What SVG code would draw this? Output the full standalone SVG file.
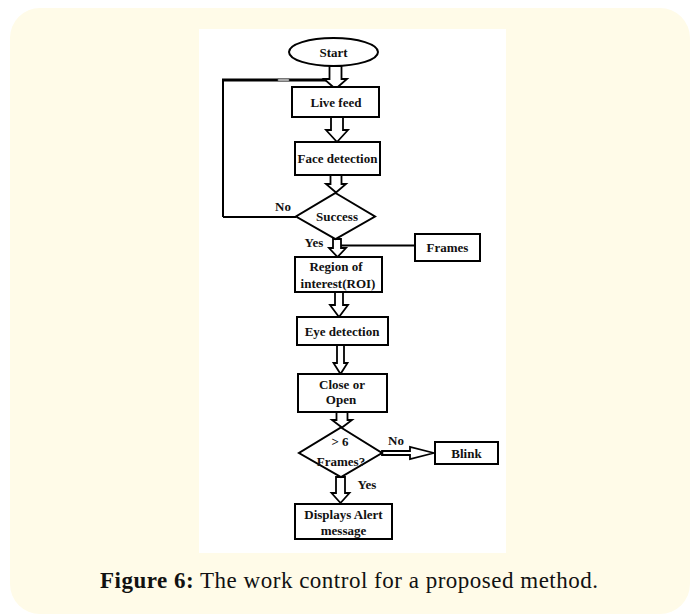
<svg xmlns="http://www.w3.org/2000/svg" width="692" height="616" viewBox="0 0 692 616">
<style>
.box{fill:#fff;stroke:#000;stroke-width:2}
.arr{fill:#fff;stroke:#000;stroke-width:1.8;stroke-linejoin:miter}
.t{font-family:"Liberation Serif","Times New Roman",serif;font-weight:bold;font-size:13px;fill:#111;text-anchor:middle}
.ln{fill:none;stroke:#000}
.cap{font-family:"Liberation Serif","Times New Roman",serif;font-size:23px;fill:#111;text-anchor:middle}
</style>
<rect x="10" y="8" width="680" height="606" rx="30" ry="30" fill="#fffbe8"/>
<rect x="199" y="29" width="307" height="524" fill="#fff"/>

<g id="connectors">
  <path class="ln" d="M223,217 V80" stroke-width="2"/>
  <path class="ln" d="M222,80 H332" stroke-width="3.2"/>
  <rect x="278" y="78.6" width="11" height="3" fill="#aaa" stroke="#666" stroke-width="0.6"/>
  <path class="ln" d="M223,217 H296" stroke-width="2"/>
  <path class="ln" d="M341,245.5 H415" stroke-width="2"/>
  <polygon class="arr" points="329.5,66 341.5,66 341.5,79 347,79 335.5,89 324,79 329.5,79"/>
  <polygon class="arr" points="331,117 343,117 343,130 348,130 337,142 326,130 331,130"/>
  <polygon class="arr" points="330.5,175 341.5,175 341.5,184 346,184 336,192.5 326,184 330.5,184"/>
  <polygon class="arr" points="333,239 341,239 341,248 346,248 337.5,257 329,248 333,248"/>
  <polygon class="arr" points="335,292 343,292 343,305 348,305 339,317 330,305 335,305"/>
  <polygon class="arr" points="337,345 344,345 344,363 347.5,363 340.5,374 333.5,363 337,363"/>
  <polygon class="arr" points="336.5,412 347.5,412 347.5,420 352,420 342,427.5 332,420 336.5,420"/>
  <polygon class="arr" points="336,477 345,477 345,493 349.5,493 340.5,503 331.5,493 336,493"/>
  <polygon class="arr" points="382,451 410,451 410,447 434,453 410,459 410,455 382,455"/>
</g>

<g id="start">
  <ellipse class="box" cx="333.5" cy="52" rx="44.5" ry="14"/>
  <text class="t" x="333.5" y="56.5">Start</text>
</g>
<g id="live-feed">
  <rect class="box" x="292" y="87" width="87" height="30"/>
  <text class="t" x="336" y="106.5">Live feed</text>
</g>
<g id="face-detection">
  <rect class="box" x="295" y="142" width="85" height="33"/>
  <text class="t" x="337.5" y="162.5">Face detection</text>
</g>
<g id="success">
  <polygon class="box" points="335.5,193 375,216.5 335.5,239 296,216.5"/>
  <text class="t" x="337" y="220.5">Success</text>
  <text class="t" x="283" y="211">No</text>
  <text class="t" x="314" y="247">Yes</text>
</g>
<g id="frames">
  <rect class="box" x="415" y="234" width="65" height="27"/>
  <text class="t" x="447.5" y="252">Frames</text>
</g>
<g id="roi">
  <rect class="box" x="295" y="257" width="87" height="35"/>
  <text class="t" x="336" y="271">Region of</text>
  <text class="t" x="338" y="287.5">interest(ROI)</text>
</g>
<g id="eye-detection">
  <rect class="box" x="297" y="317" width="91" height="28"/>
  <text class="t" x="342" y="335.5">Eye detection</text>
</g>
<g id="close-open">
  <rect class="box" x="298" y="374" width="89" height="38"/>
  <text class="t" x="342" y="388.5">Close or</text>
  <text class="t" x="341" y="404">Open</text>
</g>
<g id="frames-check">
  <polygon class="box" points="341,427.5 382,453 341,477 299,453"/>
  <text class="t" x="340" y="446">&gt; 6</text>
  <text class="t" x="341" y="465.5">Frames?</text>
  <text class="t" x="396" y="445">No</text>
  <text class="t" x="367" y="488.5">Yes</text>
</g>
<g id="blink">
  <rect class="box" x="435" y="442" width="63" height="22"/>
  <text class="t" x="466.5" y="457.5">Blink</text>
</g>
<g id="alert">
  <rect class="box" x="295" y="504" width="97" height="35"/>
  <text class="t" x="343.5" y="519">Displays Alert</text>
  <text class="t" x="343.5" y="535">message</text>
</g>

<text class="cap" x="349" y="588" textLength="498" lengthAdjust="spacing"><tspan font-weight="bold">Figure 6:</tspan> The work control for a proposed method.</text>
</svg>
